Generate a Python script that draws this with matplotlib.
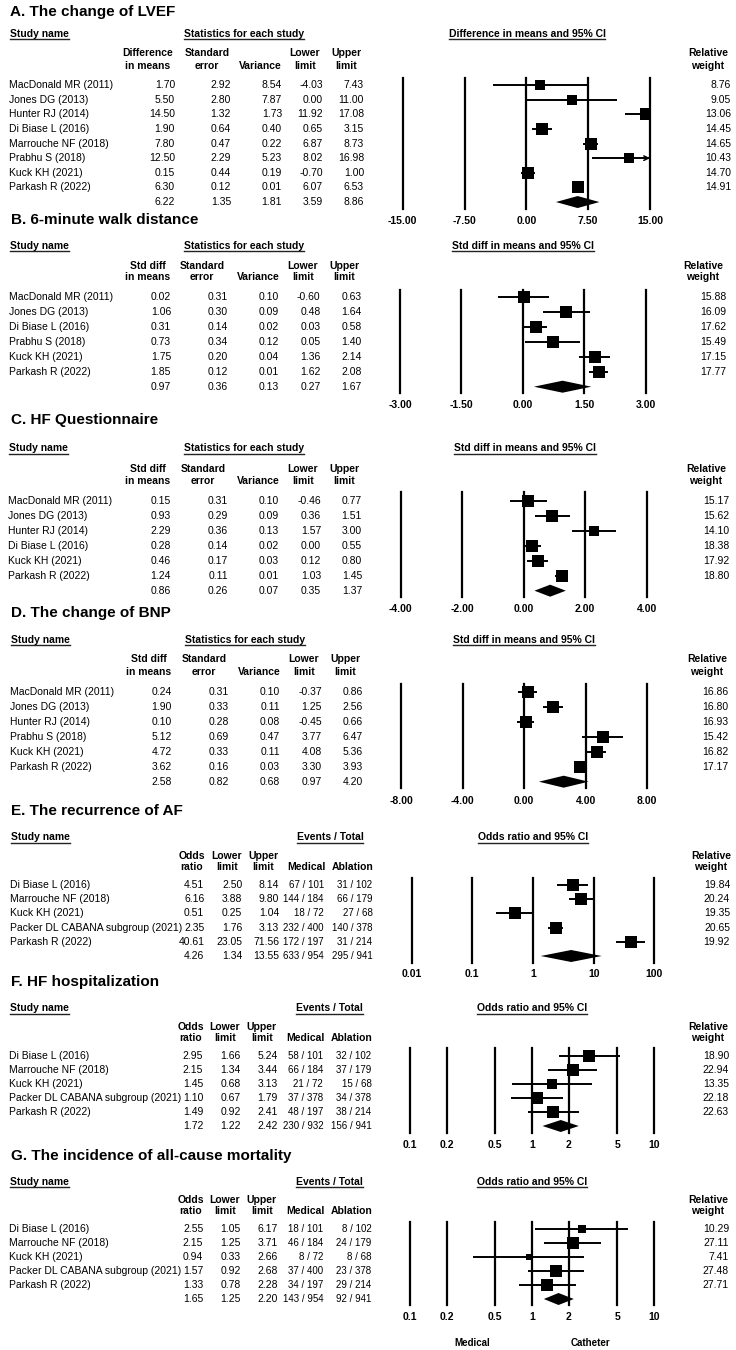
import matplotlib
matplotlib.use('Agg')
import matplotlib.pyplot as plt
from matplotlib.lines import Line2D
from matplotlib.ticker import NullLocator
import numpy as np

plt.rcParams['font.family'] = ['Liberation Sans', 'DejaVu Sans']

# ---------------- DATA ----------------
# A. LVEF (difference in means)
A_names = ["MacDonald MR (2011)", "Jones DG (2013)", "Hunter RJ (2014)", "Di Biase L (2016)",
           "Marrouche NF (2018)", "Prabhu S (2018)", "Kuck KH (2021)", "Parkash R (2022)"]
A_est = [1.70, 5.50, 14.50, 1.90, 7.80, 12.50, 0.15, 6.30]
A_se = [2.92, 2.80, 1.32, 0.64, 0.47, 2.29, 0.44, 0.12]
A_var = [8.54, 7.87, 1.73, 0.40, 0.22, 5.23, 0.19, 0.01]
A_lo = [-4.03, 0.00, 11.92, 0.65, 6.87, 8.02, -0.70, 6.07]
A_hi = [7.43, 11.00, 17.08, 3.15, 8.73, 16.98, 1.00, 6.53]
A_w = [8.76, 9.05, 13.06, 14.45, 14.65, 10.43, 14.70, 14.91]
A_sum = [6.22, 1.35, 1.81, 3.59, 8.86]
A_ticks = [-15.0, -7.5, 0.0, 7.5, 15.0]

# B. 6-minute walk distance
B_names = ["MacDonald MR (2011)", "Jones DG (2013)", "Di Biase L (2016)", "Prabhu S (2018)",
           "Kuck KH (2021)", "Parkash R (2022)"]
B_est = [0.02, 1.06, 0.31, 0.73, 1.75, 1.85]
B_se = [0.31, 0.30, 0.14, 0.34, 0.20, 0.12]
B_var = [0.10, 0.09, 0.02, 0.12, 0.04, 0.01]
B_lo = [-0.60, 0.48, 0.03, 0.05, 1.36, 1.62]
B_hi = [0.63, 1.64, 0.58, 1.40, 2.14, 2.08]
B_w = [15.88, 16.09, 17.62, 15.49, 17.15, 17.77]
B_sum = [0.97, 0.36, 0.13, 0.27, 1.67]
B_ticks = [-3.0, -1.5, 0.0, 1.5, 3.0]

# C. HF Questionnaire
C_names = ["MacDonald MR (2011)", "Jones DG (2013)", "Hunter RJ (2014)", "Di Biase L (2016)",
           "Kuck KH (2021)", "Parkash R (2022)"]
C_est = [0.15, 0.93, 2.29, 0.28, 0.46, 1.24]
C_se = [0.31, 0.29, 0.36, 0.14, 0.17, 0.11]
C_var = [0.10, 0.09, 0.13, 0.02, 0.03, 0.01]
C_lo = [-0.46, 0.36, 1.57, 0.00, 0.12, 1.03]
C_hi = [0.77, 1.51, 3.00, 0.55, 0.80, 1.45]
C_w = [15.17, 15.62, 14.10, 18.38, 17.92, 18.80]
C_sum = [0.86, 0.26, 0.07, 0.35, 1.37]
C_ticks = [-4.0, -2.0, 0.0, 2.0, 4.0]

# D. BNP
D_names = ["MacDonald MR (2011)", "Jones DG (2013)", "Hunter RJ (2014)", "Prabhu S (2018)",
           "Kuck KH (2021)", "Parkash R (2022)"]
D_est = [0.24, 1.90, 0.10, 5.12, 4.72, 3.62]
D_se = [0.31, 0.33, 0.28, 0.69, 0.33, 0.16]
D_var = [0.10, 0.11, 0.08, 0.47, 0.11, 0.03]
D_lo = [-0.37, 1.25, -0.45, 3.77, 4.08, 3.30]
D_hi = [0.86, 2.56, 0.66, 6.47, 5.36, 3.93]
D_w = [16.86, 16.80, 16.93, 15.42, 16.82, 17.17]
D_sum = [2.58, 0.82, 0.68, 0.97, 4.20]
D_ticks = [-8.0, -4.0, 0.0, 4.0, 8.0]

# E. Recurrence of AF (odds ratio)
E_names = ["Di Biase L (2016)", "Marrouche NF (2018)", "Kuck KH (2021)",
           "Packer DL CABANA subgroup (2021)", "Parkash R (2022)"]
E_or = [4.51, 6.16, 0.51, 2.35, 40.61]
E_lo = [2.50, 3.88, 0.25, 1.76, 23.05]
E_hi = [8.14, 9.80, 1.04, 3.13, 71.56]
E_med_ev = [67, 144, 18, 232, 172]
E_med_n = [101, 184, 72, 400, 197]
E_abl_ev = [31, 66, 27, 140, 31]
E_abl_n = [102, 179, 68, 378, 214]
E_w = [19.84, 20.24, 19.35, 20.65, 19.92]
E_sum = [4.26, 1.34, 13.55]
E_sum_ev = [633, 954, 295, 941]
E_ticks = [0.01, 0.1, 1, 10, 100]
E_ticklabels = ["0.01", "0.1", "1", "10", "100"]

# F. HF hospitalization
F_names = E_names
F_or = [2.95, 2.15, 1.45, 1.10, 1.49]
F_lo = [1.66, 1.34, 0.68, 0.67, 0.92]
F_hi = [5.24, 3.44, 3.13, 1.79, 2.41]
F_med_ev = [58, 66, 21, 37, 48]
F_med_n = [101, 184, 72, 378, 197]
F_abl_ev = [32, 37, 15, 34, 38]
F_abl_n = [102, 179, 68, 378, 214]
F_w = [18.90, 22.94, 13.35, 22.18, 22.63]
F_sum = [1.72, 1.22, 2.42]
F_sum_ev = [230, 932, 156, 941]
F_ticks = [0.1, 0.2, 0.5, 1, 2, 5, 10]
F_ticklabels = ["0.1", "0.2", "0.5", "1", "2", "5", "10"]

# G. All-cause mortality
G_names = E_names
G_or = [2.55, 2.15, 0.94, 1.57, 1.33]
G_lo = [1.05, 1.25, 0.33, 0.92, 0.78]
G_hi = [6.17, 3.71, 2.66, 2.68, 2.28]
G_med_ev = [18, 46, 8, 37, 34]
G_med_n = [101, 184, 72, 400, 197]
G_abl_ev = [8, 24, 8, 23, 29]
G_abl_n = [102, 179, 68, 378, 214]
G_w = [10.29, 27.11, 7.41, 27.48, 27.71]
G_sum = [1.65, 1.25, 2.20]
G_sum_ev = [143, 954, 92, 941]
G_ticks = F_ticks
G_ticklabels = F_ticklabels

titles = ["A. The change of LVEF", "B. 6-minute walk distance", "C. HF Questionnaire",
          "D. The change of BNP", "E. The recurrence of AF", "F. HF hospitalization",
          "G. The incidence of all-cause mortality"]

# ---------------- LAYOUT (pixels) ----------------
W, H = 736, 1350
fig = plt.figure(figsize=(W / 100, H / 100), dpi=100)
fig.patch.set_facecolor('white')
FS = 7.5
EVFS = 7.0
renderer = fig.canvas.get_renderer()


def fx(x):
    return x / W


def fy(y):
    return 1 - y / H


def txt(x, y, s, ha='left', bold=False, size=FS, underline=False):
    t = fig.text(fx(x), fy(y), s, ha=ha, va='center', fontsize=size,
                 fontweight='bold' if bold else 'normal', color='black')
    if underline:
        bb = t.get_window_extent(renderer=renderer)
        yy = bb.y0 - 0.3
        fig.add_artist(Line2D([bb.x0 / W, bb.x1 / W], [yy / H, yy / H],
                              transform=fig.transFigure, color='#222222', lw=1.0))
    return t


def forest(L, est, lo, hi, w, sum_est, sum_lo, sum_hi, ticks, ticklabels, log=False):
    n = len(est)
    step = L['step']
    y0 = L['row0']
    top, bot = L['line_top'], L['line_bot']
    ax = fig.add_axes([fx(L['x0']), fy(bot), (L['x1'] - L['x0']) / W, (bot - top) / H])
    ax.set_facecolor('none')
    if log:
        ax.set_xscale('log')
    xmin, xmax = ticks[0], ticks[-1]
    ax.set_xlim(xmin, xmax)
    ax.set_ylim((bot - y0) / step, (top - y0) / step)
    for s in ax.spines.values():
        s.set_visible(False)
    ax.set_yticks([])
    ax.set_xticks(ticks)
    ax.xaxis.set_minor_locator(NullLocator())
    ax.set_xticklabels(ticklabels, fontweight='bold', fontsize=FS)
    pad_px = L['tick_y'] - bot - 5.5
    ax.tick_params(axis='x', length=0, pad=pad_px * 0.72)
    for t in ticks:
        ax.axvline(t, color='black', lw=1.6, clip_on=False, zorder=1)
    wmax = max(w)
    for i in range(n):
        l = max(lo[i], xmin)
        h = min(hi[i], xmax)
        ax.plot([l, h], [i, i], color='black', lw=1.4, zorder=2, solid_capstyle='butt')
        if hi[i] > xmax:
            back = xmax / 1.15 if log else xmax - 0.03 * (xmax - xmin)
            ax.annotate('', xy=(xmax, i), xytext=(back, i), annotation_clip=False,
                        arrowprops=dict(arrowstyle='->', color='black', lw=1.1,
                                        mutation_scale=8, shrinkA=0, shrinkB=0))
        if lo[i] < xmin:
            back = xmin * 1.15 if log else xmin + 0.03 * (xmax - xmin)
            ax.annotate('', xy=(xmin, i), xytext=(back, i), annotation_clip=False,
                        arrowprops=dict(arrowstyle='->', color='black', lw=1.1,
                                        mutation_scale=8, shrinkA=0, shrinkB=0))
        side_px = 12.5 * np.sqrt(w[i] / wmax)
        ax.scatter([est[i]], [i], marker='s', s=(side_px * 0.72) ** 2,
                   color='black', linewidths=0, zorder=3)
    hh = 6.0 / step
    ax.fill([sum_lo, sum_est, sum_hi, sum_est], [n, n - hh, n, n + hh],
            color='black', zorder=3, lw=0)
    return ax


LA = dict(title_y=12, title_x=10, study_y=34, hdr1=53, hdr2=66, row0=85, step=14.63, name_x=9,
          val_r=[175, 231, 282, 323, 364], hdr_c=[148, 207, 260, 305, 346], stat_c=244,
          x0=402.7, x1=650, line_top=78, line_bot=209, tick_y=221, fh_c=527, rw_c=708, rw_r=731)
LB = dict(title_y=220, title_x=11, study_y=245.7, hdr1=266, hdr2=277.3, row0=296.7, step=15.0, name_x=9,
          val_r=[171, 228, 279, 320.5, 361.5], hdr_c=[148, 202, 258, 303, 344], stat_c=244,
          x0=400, x1=645.7, line_top=290, line_bot=393, tick_y=405.7, fh_c=523, rw_c=703, rw_r=726)
LC = dict(title_y=420, title_x=11, study_y=448.3, hdr1=469, hdr2=481, row0=501, step=14.95, name_x=8,
          val_r=[171, 228, 279, 321, 362], hdr_c=[148, 203, 258, 303, 344], stat_c=244,
          x0=400.7, x1=646.7, line_top=492.3, line_bot=596.7, tick_y=610, fh_c=525, rw_c=706, rw_r=729)
LD = dict(title_y=612.7, title_x=11, study_y=640, hdr1=659.3, hdr2=671.7, row0=691.7, step=15.0, name_x=10,
          val_r=[172, 229, 280, 322, 363], hdr_c=[149, 204, 259, 304, 345], stat_c=245,
          x0=401, x1=647, line_top=684, line_bot=788, tick_y=801, fh_c=524, rw_c=707, rw_r=728)
LE = dict(title_y=810.7, title_x=11, study_y=837.3, hdr1=856, hdr2=866.7, row0=885, step=14.2, name_x=10,
          val_r=[204.3, 242.3, 279.3, 323.8, 372.5], hdr_c=[192, 227, 263.3, 306.7, 352.3], ev_c=330,
          x0=411.7, x1=654.3, line_top=878, line_bot=963, tick_y=974.3, fh_c=533, rw_c=711, rw_r=730)
LF = dict(title_y=982.3, title_x=11, study_y=1008.3, hdr1=1026.7, hdr2=1037.7, row0=1056, step=14.0, name_x=9,
          val_r=[203.3, 240.7, 277.7, 323.2, 371.5], hdr_c=[190.5, 225, 261.8, 305.7, 351.7], ev_c=329.5,
          x0=410, x1=654, line_top=1048.3, line_bot=1133, tick_y=1146, fh_c=532, rw_c=708, rw_r=729)
LG = dict(title_y=1156, title_x=11, study_y=1182, hdr1=1200, hdr2=1211, row0=1229, step=14.0, name_x=9,
          val_r=[203.3, 240.7, 277.7, 323.2, 371.5], hdr_c=[190.5, 225, 261.8, 305.7, 351.7], ev_c=329.5,
          x0=410, x1=654, line_top=1222, line_bot=1305, tick_y=1318, fh_c=532, rw_c=708, rw_r=729)


def continuous_panel(L, title, first_hdr, names, est, se, var, lo, hi, w, summ, ticks, fh_text):
    txt(L['title_x'], L['title_y'], title, bold=True, size=11)
    txt(L['name_x'] + 1, L['study_y'], "Study name", bold=True, underline=True)
    txt(L['stat_c'], L['study_y'], "Statistics for each study", ha='center', bold=True, underline=True)
    txt(L['fh_c'], L['study_y'], fh_text, ha='center', bold=True, underline=True)
    hdrs = [first_hdr, ("Standard", "error"), (None, "Variance"), ("Lower", "limit"), ("Upper", "limit")]
    for c, (h1, h2) in zip(L['hdr_c'], hdrs):
        if h1:
            txt(c, L['hdr1'], h1, ha='center', bold=True)
        txt(c, L['hdr2'], h2, ha='center', bold=True)
    txt(L['rw_c'], L['hdr1'], "Relative", ha='center', bold=True)
    txt(L['rw_c'], L['hdr2'], "weight", ha='center', bold=True)
    for i, nm in enumerate(names):
        y = L['row0'] + i * L['step']
        txt(L['name_x'], y, nm)
        for r, v in zip(L['val_r'], [est[i], se[i], var[i], lo[i], hi[i]]):
            txt(r, y, f"{v:.2f}", ha='right')
        txt(L['rw_r'], y, f"{w[i]:.2f}", ha='right')
    y = L['row0'] + len(names) * L['step']
    for r, v in zip(L['val_r'], summ):
        txt(r, y, f"{v:.2f}", ha='right')
    labels = [f"{t:.2f}" for t in ticks]
    forest(L, est, lo, hi, w, summ[0], summ[3], summ[4], ticks, labels)


def binary_panel(L, title, names, orr, lo, hi, mev, mn, aev, an, w, summ, sum_ev, ticks, ticklabels):
    txt(L['title_x'], L['title_y'], title, bold=True, size=11)
    txt(L['name_x'] + 1, L['study_y'], "Study name", bold=True, underline=True)
    txt(L['ev_c'], L['study_y'], "Events / Total", ha='center', bold=True, underline=True)
    txt(L['fh_c'], L['study_y'], "Odds ratio and 95% CI", ha='center', bold=True, underline=True)
    hdrs = [("Odds", "ratio"), ("Lower", "limit"), ("Upper", "limit"), (None, "Medical"), (None, "Ablation")]
    for c, (h1, h2) in zip(L['hdr_c'], hdrs):
        if h1:
            txt(c, L['hdr1'], h1, ha='center', bold=True)
        txt(c, L['hdr2'], h2, ha='center', bold=True)
    txt(L['rw_c'], L['hdr1'], "Relative", ha='center', bold=True)
    txt(L['rw_c'], L['hdr2'], "weight", ha='center', bold=True)
    r = L['val_r']
    for i, nm in enumerate(names):
        y = L['row0'] + i * L['step']
        txt(L['name_x'], y, nm)
        txt(r[0], y, f"{orr[i]:.2f}", ha='right')
        txt(r[1], y, f"{lo[i]:.2f}", ha='right')
        txt(r[2], y, f"{hi[i]:.2f}", ha='right')
        txt(r[3], y, f"{mev[i]} / {mn[i]}", ha='right', size=EVFS)
        txt(r[4], y, f"{aev[i]} / {an[i]}", ha='right', size=EVFS)
        txt(L['rw_r'], y, f"{w[i]:.2f}", ha='right')
    y = L['row0'] + len(names) * L['step']
    txt(r[0], y, f"{summ[0]:.2f}", ha='right')
    txt(r[1], y, f"{summ[1]:.2f}", ha='right')
    txt(r[2], y, f"{summ[2]:.2f}", ha='right')
    txt(r[3], y, f"{sum_ev[0]} / {sum_ev[1]}", ha='right', size=EVFS)
    txt(r[4], y, f"{sum_ev[2]} / {sum_ev[3]}", ha='right', size=EVFS)
    forest(L, orr, lo, hi, w, summ[0], summ[1], summ[2], ticks, ticklabels, log=True)


continuous_panel(LA, titles[0], ("Difference", "in means"), A_names, A_est, A_se, A_var, A_lo, A_hi,
                 A_w, A_sum, A_ticks, "Difference in means and 95% CI")
continuous_panel(LB, titles[1], ("Std diff", "in means"), B_names, B_est, B_se, B_var, B_lo, B_hi,
                 B_w, B_sum, B_ticks, "Std diff in means and 95% CI")
continuous_panel(LC, titles[2], ("Std diff", "in means"), C_names, C_est, C_se, C_var, C_lo, C_hi,
                 C_w, C_sum, C_ticks, "Std diff in means and 95% CI")
continuous_panel(LD, titles[3], ("Std diff", "in means"), D_names, D_est, D_se, D_var, D_lo, D_hi,
                 D_w, D_sum, D_ticks, "Std diff in means and 95% CI")
binary_panel(LE, titles[4], E_names, E_or, E_lo, E_hi, E_med_ev, E_med_n, E_abl_ev, E_abl_n,
             E_w, E_sum, E_sum_ev, E_ticks, E_ticklabels)
binary_panel(LF, titles[5], F_names, F_or, F_lo, F_hi, F_med_ev, F_med_n, F_abl_ev, F_abl_n,
             F_w, F_sum, F_sum_ev, F_ticks, F_ticklabels)
binary_panel(LG, titles[6], G_names, G_or, G_lo, G_hi, G_med_ev, G_med_n, G_abl_ev, G_abl_n,
             G_w, G_sum, G_sum_ev, G_ticks, G_ticklabels)

txt(472, 1343, "Medical", ha='center', bold=True, size=7)
txt(590, 1343, "Catheter", ha='center', bold=True, size=7)

fig.savefig("out.png", dpi=100, facecolor='white')
